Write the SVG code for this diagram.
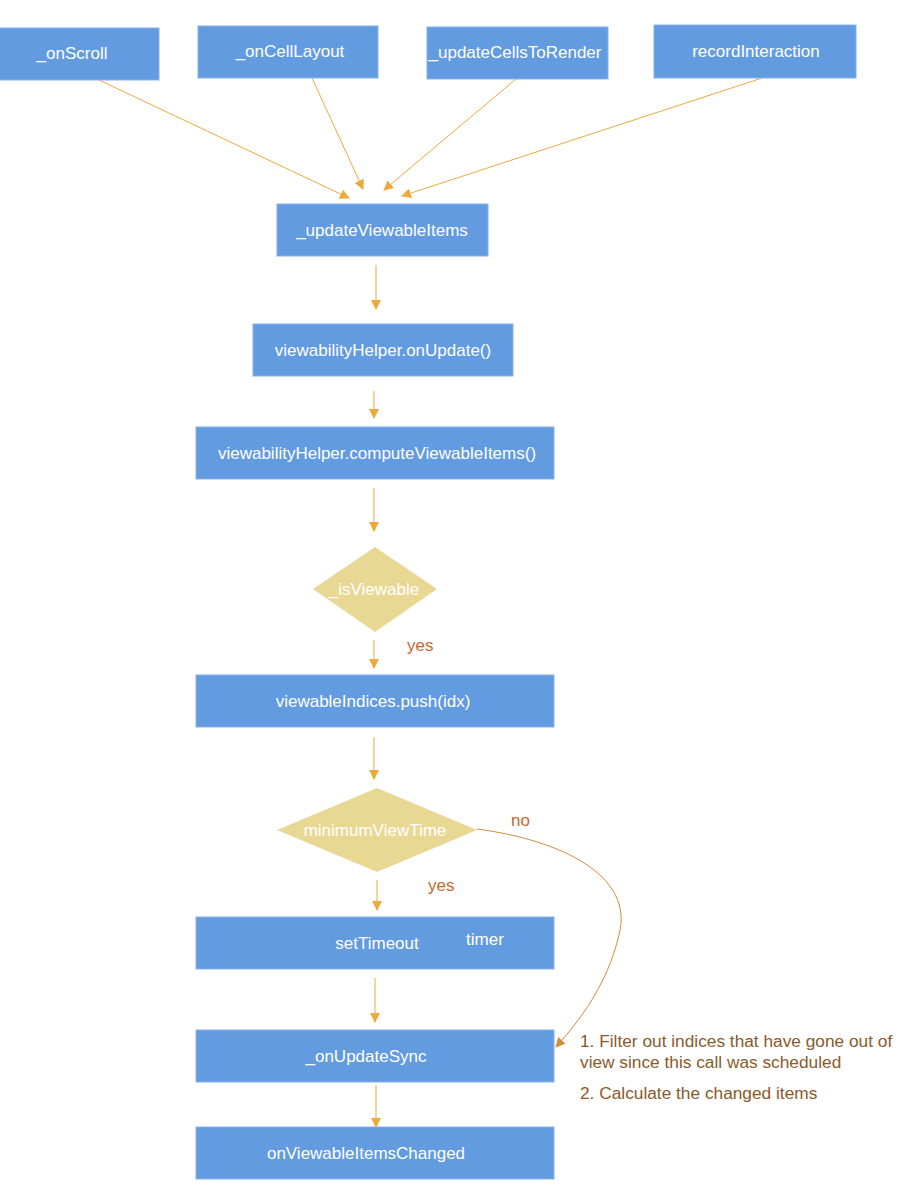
<svg xmlns="http://www.w3.org/2000/svg" width="904" height="1200" viewBox="0 0 904 1200">
<style>
.box{fill:#629BE0;stroke:#86B2EA;stroke-width:1}
.dia{fill:#E9D894}
.t{font-family:"Liberation Sans",Arial,sans-serif;font-size:17px;fill:#fff;text-anchor:middle}
.lbl{font-family:"Liberation Sans",Arial,sans-serif;font-size:17px;fill:#C9662F}
.note{font-family:"Liberation Sans",Arial,sans-serif;font-size:17.3px;fill:#8A5A2A}
.c{fill:none;stroke:#EBAA3C;stroke-width:1}
</style>
<defs>
<marker id="ah" markerWidth="10" markerHeight="10" refX="9" refY="5" orient="auto" markerUnits="userSpaceOnUse">
<path d="M0,0 L10,5 L0,10 z" fill="#EBAA3C"/>
</marker>
<marker id="ah2" markerWidth="10" markerHeight="10" refX="9" refY="5" orient="auto" markerUnits="userSpaceOnUse">
<path d="M0,0 L10,5 L0,10 z" fill="#D38B3E"/>
</marker>
</defs>
<g id="connectors">
<line class="c" x1="99" y1="80" x2="349" y2="198" marker-end="url(#ah)"/>
<line class="c" x1="312" y1="78" x2="363" y2="189" marker-end="url(#ah)"/>
<line class="c" x1="516" y1="79" x2="384" y2="190" marker-end="url(#ah)"/>
<line class="c" x1="762" y1="78" x2="402" y2="196" marker-end="url(#ah)"/>
<line class="c" x1="376" y1="265" x2="376" y2="309" marker-end="url(#ah)"/>
<line class="c" x1="374" y1="391" x2="374" y2="418" marker-end="url(#ah)"/>
<line class="c" x1="374" y1="488" x2="374" y2="531" marker-end="url(#ah)"/>
<line class="c" x1="374" y1="640" x2="374" y2="668" marker-end="url(#ah)"/>
<line class="c" x1="374" y1="737" x2="374" y2="779" marker-end="url(#ah)"/>
<line class="c" x1="377" y1="880" x2="377" y2="910" marker-end="url(#ah)"/>
<line class="c" x1="375" y1="978" x2="375" y2="1022" marker-end="url(#ah)"/>
<line class="c" x1="376" y1="1085" x2="376" y2="1127" marker-end="url(#ah)"/>
<path d="M477,829 C560,840 635,875 619,935 C607,985 580,1020 556,1047" fill="none" stroke="#D38B3E" stroke-width="1" marker-end="url(#ah2)"/>
<text class="lbl" x="407" y="651">yes</text>
<text class="lbl" x="428" y="891">yes</text>
<text class="lbl" x="511" y="826">no</text>
</g>
<g id="onScroll"><rect class="box" x="-1" y="28" width="160" height="52"/><text class="t" x="72" y="59">_onScroll</text></g>
<g id="onCellLayout"><rect class="box" x="198" y="26" width="180" height="52"/><text class="t" x="290" y="57">_onCellLayout</text></g>
<g id="updateCellsToRender"><rect class="box" x="427" y="27" width="181" height="52"/><text class="t" x="515" y="58">_updateCellsToRender</text></g>
<g id="recordInteraction"><rect class="box" x="654" y="25" width="202" height="53"/><text class="t" x="756" y="57">recordInteraction</text></g>
<g id="updateViewableItems"><rect class="box" x="277" y="204" width="211" height="52"/><text class="t" x="382" y="236">_updateViewableItems</text></g>
<g id="onUpdate"><rect class="box" x="253" y="324" width="260" height="52"/><text class="t" x="383" y="356">viewabilityHelper.onUpdate()</text></g>
<g id="computeViewableItems"><rect class="box" x="196" y="427" width="358" height="52"/><text class="t" x="377" y="459">viewabilityHelper.computeViewableItems()</text></g>
<g id="isViewable"><polygon class="dia" points="375,547 437,589 375,632 313,589"/><text class="t" x="374" y="595">_isViewable</text></g>
<g id="push"><rect class="box" x="196" y="675" width="358" height="52"/><text class="t" x="373" y="707">viewableIndices.push(idx)</text></g>
<g id="minimumViewTime"><polygon class="dia" points="377,788 477,830 377,872 277,830"/><text class="t" x="375" y="836">minimumViewTime</text></g>
<g id="setTimeout"><rect class="box" x="196" y="917" width="358" height="52"/><text class="t" x="377" y="949">setTimeout</text><text class="t" x="485" y="945">timer</text></g>
<g id="onUpdateSync"><rect class="box" x="196" y="1030" width="358" height="52"/><text class="t" x="366" y="1062">_onUpdateSync</text></g>
<g id="onViewableItemsChanged"><rect class="box" x="196" y="1127" width="358" height="52"/><text class="t" x="366" y="1159">onViewableItemsChanged</text></g>
<g id="note">
<text class="note" x="580" y="1047">1. Filter out indices that have gone out of</text>
<text class="note" x="580" y="1068">view since this call was scheduled</text>
<text class="note" x="580" y="1099">2. Calculate the changed items</text>
</g>
</svg>
